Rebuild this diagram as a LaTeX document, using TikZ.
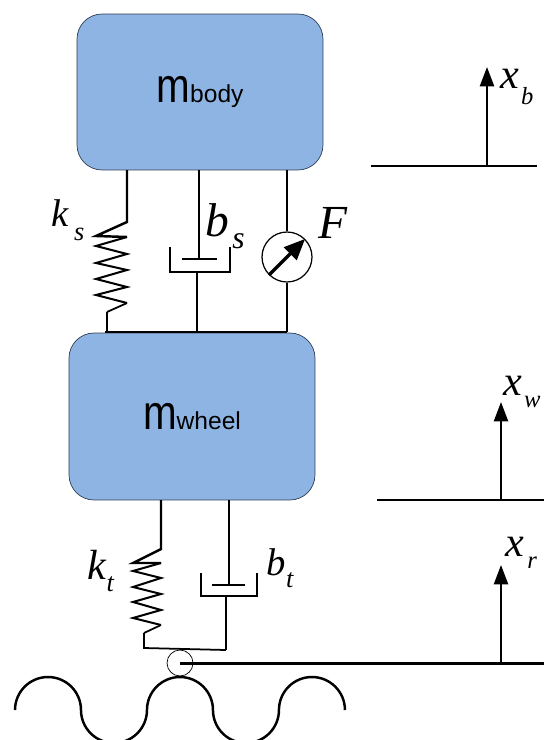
\documentclass[tikz,border=0pt]{standalone}
\usepackage{fontspec}
\usepackage{xcolor}
\usepackage{graphicx}
\setmainfont{Liberation Serif}
\setsansfont{Liberation Sans}
\usetikzlibrary{arrows.meta}

\definecolor{massblue}{HTML}{8EB4E3}
\definecolor{massedge}{HTML}{2F3F55}

\newcommand{\masslabel}[2]{\raisebox{-2pt}{\sffamily\fontsize{23}{23}\selectfont\scalebox{1.0}[1.2]{#1}\fontsize{14}{14}\selectfont #2}}
\newcommand{\symlabel}[6]{{\itshape\fontsize{#1}{#1}\selectfont #2\kern #5pt\raisebox{#6pt}{\fontsize{#4}{#4}\selectfont #3}}}

\tikzset{
    massbox/.style={draw=massedge, line width=0.4pt, fill=massblue, rounded corners=0.5cm, minimum width=4.92cm},
    wire/.style={line width=1.4pt},
    coil/.style={line width=1.15pt, line join=miter},
    thinwire/.style={line width=1pt},
    level/.style={line width=1.7pt},
    motion/.style={line width=1.2pt, -{Triangle[length=11pt,width=8pt]}},
    sym/.style={inner sep=0pt}
}

\begin{document}
\begin{tikzpicture}[x=0.02cm, y=-0.02cm]
    \useasboundingbox (0,0) rectangle (544,740);
    \clip (0,0) rectangle (544,740);

    % Masses
    \node[massbox, minimum height=3.12cm] (mbody) at (200,92) {\masslabel{m}{body}};
    \node[massbox, minimum height=3.34cm] (mwheel) at (192,416.5) {\masslabel{m}{wheel}};

    % Suspension spring
    \coordinate (ksTop) at (127,170);
    \coordinate (ksEnd) at (107,331);
    \draw[wire] (ksTop) -- (127,222) -- (96,236) -- (127,237);
    \draw[coil] (127,237) -- (96,246) -- (127,254) -- (96,263) -- (127,270)
        -- (96,279) -- (127,287) -- (96,295) -- (127,303);
    \draw[thinwire] (127,303) -- (107,312);
    \draw[wire] (107,312) -- (ksEnd);
    \node[sym] (ksLabel) at (68,220) {\symlabel{22}{k}{s}{15}{3}{-8}};

    % Suspension damper
    \coordinate (bsTop) at (199,170);
    \coordinate (bsPiston) at (199,259);
    \coordinate (bsCup) at (197,272);
    \coordinate (bsEnd) at (197,332);
    \draw[thinwire] (bsTop) -- (bsPiston);
    \draw[thinwire] (182,259) -- (217,259);
    \draw[thinwire] (170,247) -- (170,272) -- (230,272) -- (230,247);
    \draw[thinwire] (bsCup) -- (bsEnd);
    \node[sym] (bsLabel) at (225,226) {\symlabel{27}{b}{s}{18}{2}{-7}};

    % Actuator
    \node[circle, draw, line width=0.7pt, fill=white, minimum size=1cm, inner sep=0pt] (act) at (287,257) {};
    \coordinate (fTop) at (287,170);
    \coordinate (fEnd) at (287,332);
    \draw[thinwire] (fTop) -- (act);
    \draw[thinwire] (act) -- (fEnd);
    \draw[line width=1.9pt, -{Triangle[length=12pt,width=10pt]}] (act.south west) -- (act.north east);
    \node[sym] (fLabel) at (333,223) {\symlabel{27}{F}{}{15}{0}{0}};

    % Bar above the wheel
    \coordinate (barLeft) at (105,332);
    \draw[level] (barLeft) -- (fEnd);

    % Tyre spring
    \coordinate (ktTop) at (161,500);
    \coordinate (ktEnd) at (144,633);
    \coordinate (contactLeft) at (144,648);
    \draw[wire] (ktTop) -- (161,549) -- (133,563) -- (161,563);
    \draw[coil] (161,563) -- (133,571) -- (161,578) -- (133,587) -- (161,594)
        -- (133,602) -- (161,610) -- (133,618) -- (161,625);
    \draw[thinwire] (161,625) -- (ktEnd);
    \draw[thinwire] (ktEnd) -- (contactLeft) -- (226,650);
    \node[sym] (ktLabel) at (101,571) {\symlabel{24}{k}{t}{15}{0}{-7}};

    % Tyre damper
    \coordinate (btTop) at (229,500);
    \coordinate (btPiston) at (229,585);
    \coordinate (btCup) at (226,596);
    \coordinate (btEnd) at (226,650);
    \draw[thinwire] (btTop) -- (btPiston);
    \draw[thinwire] (212,585) -- (245,585);
    \draw[thinwire] (201,573) -- (201,596) -- (257,596) -- (257,573);
    \draw[thinwire] (btCup) -- (btEnd);
    \node[sym] (btLabel) at (280,568) {\symlabel{22}{b}{t}{15}{0}{-7}};

    % Tyre contact and road
    \node[circle, draw, line width=0.4pt, minimum size=0.52cm, inner sep=0pt] (contact) at (180,663) {};
    \coordinate (roadRef) at (544,663);
    \draw[level] (contact.center) -- (roadRef);
    \draw[wire] (15,710)
        arc[start angle=180, end angle=0, radius=0.66cm]
        arc[start angle=180, end angle=360, radius=0.66cm]
        arc[start angle=180, end angle=0, radius=0.66cm]
        arc[start angle=180, end angle=360, radius=0.66cm]
        arc[start angle=180, end angle=0, radius=0.66cm];

    % Displacement references
    \coordinate (xbLeft) at (371,166);
    \coordinate (xbRight) at (537,166);
    \coordinate (xbBase) at (487,166);
    \coordinate (xbTip) at (487,67);
    \draw[level] (xbLeft) -- (xbRight);
    \draw[motion] (xbBase) -- (xbTip);
    \node[sym] (xbLabel) at (517,87) {\symlabel{24}{x}{b}{14}{1}{-9}};

    \coordinate (xwLeft) at (377,500);
    \coordinate (xwRight) at (544,500);
    \coordinate (xwBase) at (501,500);
    \coordinate (xwTip) at (501,402);
    \draw[level] (xwLeft) -- (xwRight);
    \draw[motion] (xwBase) -- (xwTip);
    \node[sym] (xwLabel) at (522,392) {\symlabel{24}{x}{w}{14}{1}{-7}};

    \coordinate (xrBase) at (501,663);
    \coordinate (xrTip) at (501,565);
    \draw[motion] (xrBase) -- (xrTip);
    \node[sym] (xrLabel) at (521,553) {\symlabel{24}{x}{r}{14}{2}{-7}};
\end{tikzpicture}
\end{document}
